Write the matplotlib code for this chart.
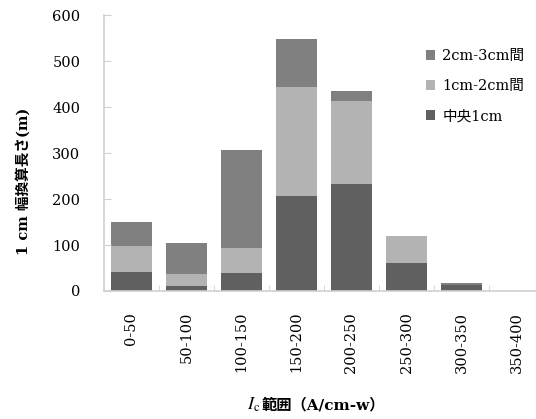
import numpy as np
import matplotlib
matplotlib.use("Agg")
import matplotlib.pyplot as plt

plt.rcParams['font.family'] = ['DejaVu Serif', 'Noto Sans CJK JP']
plt.rcParams['mathtext.fontset'] = 'stix'

# data
ranges = ['0-50', '50-100', '100-150', '150-200', '200-250', '250-300', '300-350', '350-400']
center_1cm = [42, 10, 40, 206, 233, 61, 13, 0]
band_1_2cm = [56, 26, 53, 238, 179, 59, 0, 0]
band_2_3cm = [51, 68, 213, 104, 23, 0, 5, 0]

col_center = '#606060'
col_12 = '#b3b3b3'
col_23 = '#808080'

fig = plt.figure(figsize=(5.36, 4.19), dpi=100)
W, H = 536, 419
ax = fig.add_axes([104 / W, 128 / H, 440 / W, 276 / H])

x = np.arange(len(ranges))
c = np.array(center_1cm)
b = np.array(band_1_2cm)
t = np.array(band_2_3cm)
w = 0.75
h1 = ax.bar(x, c, w, color=col_center, label='中央1cm')
h2 = ax.bar(x, b, w, bottom=c, color=col_12, label='1cm-2cm間')
h3 = ax.bar(x, t, w, bottom=c + b, color=col_23, label='2cm-3cm間')

ax.set_xlim(-0.5, len(ranges) - 0.5)
ax.set_ylim(0, 600)
ax.set_yticks(range(0, 601, 100))
ax.set_xticks(x)
ax.set_xticklabels(ranges, rotation=90, fontsize=10.5)
ax.tick_params(axis='x', length=0, pad=15)
ax.set_xticks(np.arange(-0.5, len(ranges), 1), minor=True)
ax.tick_params(axis='x', which='minor', direction='in', length=4, color='#d0d0d0')
ax.tick_params(axis='y', direction='in', length=5, color='#d0d0d0', labelsize=10.5, pad=17)

for s in ['top', 'right']:
    ax.spines[s].set_visible(False)
for s in ['left', 'bottom']:
    ax.spines[s].set_color('#d0d0d0')
    ax.spines[s].set_linewidth(1.2)

leg = fig.legend([h3, h2, h1], ['2cm-3cm間', '1cm-2cm間', '中央1cm'],
                 loc='upper left', bbox_to_anchor=(413 / W, 1 - 36 / H),
                 frameon=False, fontsize=10.5, handlelength=0.6, handleheight=0.6,
                 handletextpad=0.5, labelspacing=1.1)

fig.text(23 / W, 1 - 181 / H, '1 cm 幅換算長さ(m)', rotation=90, ha='center', va='center',
         fontsize=10.5, fontweight='bold')

# x label: italic I_c then the rest in bold
t1 = fig.text(247 / W, 1 - 405 / H, r'$I_{\rm c}$', ha='left', va='center', fontsize=13)
fig.canvas.draw()
ax.annotate('範囲（A/cm-w）', xy=(1, 0.5), xycoords=t1, xytext=(1, 0), textcoords='offset points',
            ha='left', va='center', fontsize=11, fontweight='bold', annotation_clip=False)

fig.savefig('out.png', dpi=100)
